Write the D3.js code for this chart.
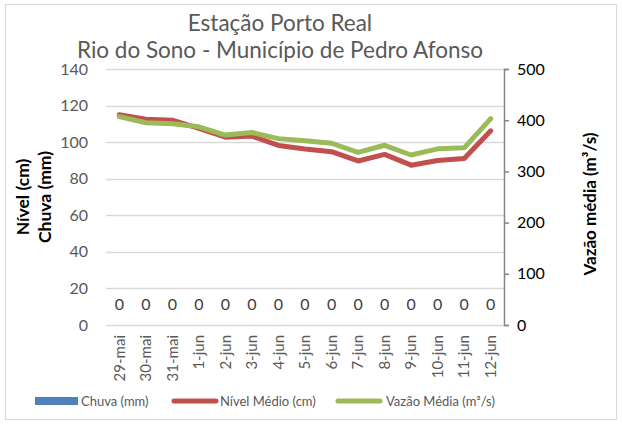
<!DOCTYPE html>
<html>
<head>
<meta charset="utf-8">
<script src="https://cdn.jsdelivr.net/npm/d3@7"></script>
<style>
  body { margin: 0; background: #fff; }
  text { font-family: Lato, "Open Sans", sans-serif; }
</style>
</head>
<body>
<div id="chart"></div>
<script>
const categories = ["29-mai", "30-mai", "31-mai", "1-jun", "2-jun", "3-jun", "4-jun",
  "5-jun", "6-jun", "7-jun", "8-jun", "9-jun", "10-jun", "11-jun", "12-jun"];
const chuva = [0, 0, 0, 0, 0, 0, 0, 0, 0, 0, 0, 0, 0, 0, 0];
const nivel = [115, 112.5, 112, 107.5, 102.7, 103.3, 98.2, 96.3, 94.8, 89.7, 93.3, 87.4, 90, 91.1, 106.2];
const vazao = [407, 395, 393, 387, 371, 376, 364, 360, 355, 337, 351, 332, 344, 346, 403];
const leftTicks = [0, 20, 40, 60, 80, 100, 120, 140];
const rightTicks = [0, 100, 200, 300, 400, 500];

const width = 622;
const height = 424;
const plot = { left: 106, right: 504, top: 69, bottom: 325 };

const svg = d3.select("#chart").append("svg")
  .attr("width", width)
  .attr("height", height);

svg.append("rect")
  .attr("x", 5.5).attr("y", 4.5)
  .attr("width", 611).attr("height", 415)
  .attr("fill", "#fff")
  .attr("stroke", "#d9d9d9");

const x = d3.scaleBand().domain(categories).range([plot.left, plot.right]);
const yLeft = d3.scaleLinear().domain([0, 140]).range([plot.bottom, plot.top]);
const yRight = d3.scaleLinear().domain([0, 500]).range([plot.bottom, plot.top]);
const cx = (d) => x(d) + x.bandwidth() / 2;

// title
const title = svg.append("text")
  .attr("text-anchor", "middle")
  .style("font-size", "22.5px")
  .style("fill", "#595959");
title.append("tspan").attr("x", 280).attr("y", 31).text("Estação Porto Real");
title.append("tspan").attr("x", 280).attr("y", 58).text("Rio do Sono - Município de Pedro Afonso");

// gridlines
svg.append("g")
  .selectAll("line")
  .data(leftTicks)
  .join("line")
  .attr("x1", plot.left).attr("x2", plot.right)
  .attr("y1", (d) => Math.round(yLeft(d)) + 0.5)
  .attr("y2", (d) => Math.round(yLeft(d)) + 0.5)
  .attr("stroke", "#d9d9d9")
  .attr("stroke-width", 1.5);

// left axis labels
svg.append("g")
  .selectAll("text")
  .data(leftTicks)
  .join("text")
  .attr("x", 88)
  .attr("y", (d) => yLeft(d))
  .attr("dy", "0.35em")
  .attr("text-anchor", "end")
  .style("font-size", "16px")
  .style("fill", "#595959")
  .text((d) => d);

// right axis
const rightAxis = d3.axisRight(yRight).tickValues(rightTicks).tickSize(5).tickPadding(8);
const ra = svg.append("g")
  .attr("transform", `translate(${plot.right},0)`)
  .call(rightAxis);
ra.select(".domain").attr("stroke", "#868686").attr("stroke-width", 1.5);
ra.selectAll(".tick line").attr("stroke", "#868686").attr("stroke-width", 1.5);
ra.selectAll(".tick text")
  .style("font-size", "16px")
  .style("font-family", "Lato, sans-serif")
  .attr("fill", "#000");

// axis titles
const lt = svg.append("text")
  .attr("transform", "translate(23,197) rotate(-90)")
  .attr("text-anchor", "middle")
  .style("font-size", "17.5px")
  .style("font-weight", "bold")
  .style("fill", "#000");
lt.append("tspan").attr("x", 0).attr("y", 0).attr("dy", "0.35em").text("Nível (cm)");
lt.append("tspan").attr("x", 0).attr("y", 22).attr("dy", "0.35em").text("Chuva (mm)");

svg.append("text")
  .attr("transform", "translate(590,204) rotate(-90)")
  .attr("text-anchor", "middle")
  .attr("dy", "0.35em")
  .style("font-size", "17px")
  .style("font-weight", "bold")
  .style("fill", "#000")
  .text("Vazão média (m³/s)");

// x labels
svg.append("g")
  .selectAll("text")
  .data(categories)
  .join("text")
  .attr("transform", (d) => `translate(${cx(d)},335) rotate(-90)`)
  .attr("text-anchor", "end")
  .attr("dy", "0.35em")
  .style("font-size", "15px")
  .style("fill", "#595959")
  .text((d) => d);

// chuva bars
svg.append("g")
  .selectAll("rect")
  .data(chuva)
  .join("rect")
  .attr("x", (d, i) => x(categories[i]) + x.bandwidth() * 0.2)
  .attr("width", x.bandwidth() * 0.6)
  .attr("y", (d) => yLeft(d))
  .attr("height", (d) => yLeft(0) - yLeft(d))
  .attr("fill", "#4f81bd");

svg.append("g")
  .selectAll("text")
  .data(chuva)
  .join("text")
  .attr("x", (d, i) => cx(categories[i]))
  .attr("y", (d) => yLeft(d) - 15)
  .attr("text-anchor", "middle")
  .style("font-size", "16px")
  .style("fill", "#404040")
  .text((d) => d);

// lines
const nivelLine = d3.line()
  .x((d, i) => cx(categories[i]))
  .y((d) => yLeft(d));
const vazaoLine = d3.line()
  .x((d, i) => cx(categories[i]))
  .y((d) => yRight(d));

svg.append("path")
  .datum(nivel)
  .attr("d", nivelLine)
  .attr("fill", "none")
  .attr("stroke", "#c0504d")
  .attr("stroke-width", 5)
  .attr("stroke-linejoin", "round")
  .attr("stroke-linecap", "round");

svg.append("path")
  .datum(vazao)
  .attr("d", vazaoLine)
  .attr("fill", "none")
  .attr("stroke", "#9bbb59")
  .attr("stroke-width", 5)
  .attr("stroke-linejoin", "round")
  .attr("stroke-linecap", "round");

// legend
const legend = svg.append("g").style("font-size", "13px");
legend.append("rect")
  .attr("x", 35).attr("y", 397).attr("width", 43).attr("height", 8)
  .attr("fill", "#4f81bd");
legend.append("text").attr("x", 81).attr("y", 401).attr("dy", "0.35em")
  .style("fill", "#595959").text("Chuva (mm)");
legend.append("line")
  .attr("x1", 174).attr("x2", 216).attr("y1", 401).attr("y2", 401)
  .attr("stroke", "#c0504d").attr("stroke-width", 5).attr("stroke-linecap", "round");
legend.append("text").attr("x", 220).attr("y", 401).attr("dy", "0.35em")
  .style("fill", "#595959").text("Nível Médio (cm)");
legend.append("line")
  .attr("x1", 338).attr("x2", 380).attr("y1", 401).attr("y2", 401)
  .attr("stroke", "#9bbb59").attr("stroke-width", 5).attr("stroke-linecap", "round");
legend.append("text").attr("x", 386).attr("y", 401).attr("dy", "0.35em")
  .style("fill", "#595959").text("Vazão Média (m³/s)");
</script>
</body>
</html>
